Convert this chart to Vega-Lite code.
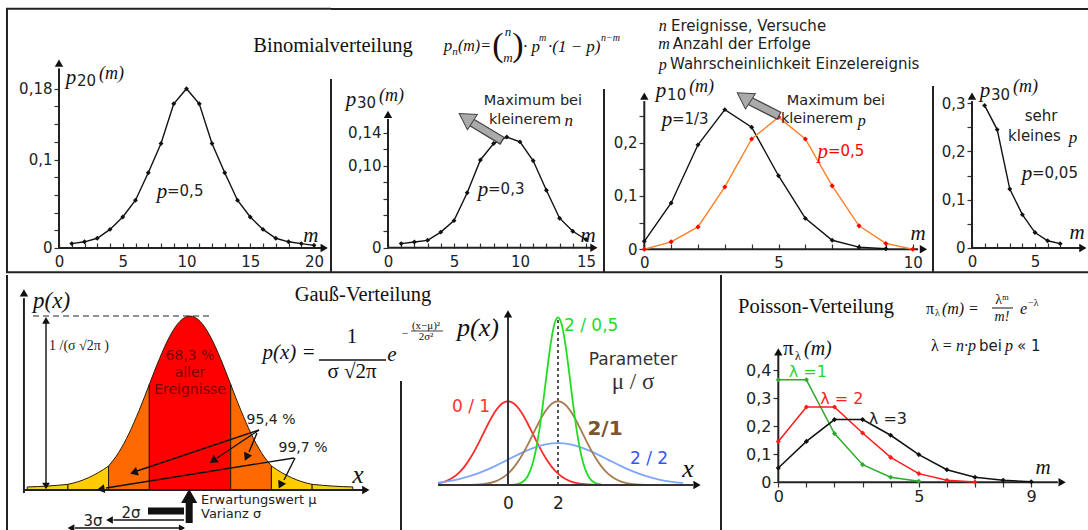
{
"$schema": "https://vega.github.io/schema/vega-lite/v6.json",
"background": "white",
"padding": {"left": 5, "top": 7, "right": 0, "bottom": 0},
"spacing": 0,
"resolve": {"scale": {"color": "independent"}},
"config": {
  "view": {"stroke": null},
  "axis": {"grid": false, "domain": false, "labelFont": "DejaVu Sans", "labelFontSize": 15, "labelColor": "#222", "tickColor": "#333", "tickWidth": 1.2, "labelFlush": false, "labelOverlap": false, "labelBound": false, "labelAngle": 0},
  "text": {"baseline": "middle"}
},
"datasets": {
  "b20": [{"x":1,"y":0.005},{"x":2,"y":0.007},{"x":3,"y":0.011},{"x":4,"y":0.021},{"x":5,"y":0.035},{"x":6,"y":0.054},{"x":7,"y":0.085},{"x":8,"y":0.118},{"x":9,"y":0.163},{"x":10,"y":0.18},{"x":11,"y":0.163},{"x":12,"y":0.118},{"x":13,"y":0.085},{"x":14,"y":0.054},{"x":15,"y":0.035},{"x":16,"y":0.021},{"x":17,"y":0.011},{"x":18,"y":0.007},{"x":19,"y":0.005},{"x":20,"y":0.003}],
  "b30": [{"x":1,"y":0.005},{"x":2,"y":0.007},{"x":3,"y":0.009},{"x":4,"y":0.019},{"x":5,"y":0.033},{"x":6,"y":0.067},{"x":7,"y":0.107},{"x":8,"y":0.127},{"x":9,"y":0.135},{"x":10,"y":0.129},{"x":11,"y":0.106},{"x":12,"y":0.07},{"x":13,"y":0.036},{"x":14,"y":0.02},{"x":15,"y":0.01}],
  "b10": [{"s":"p13","x":0,"y":0.015},{"s":"p13","x":1,"y":0.087},{"s":"p13","x":2,"y":0.196},{"s":"p13","x":3,"y":0.262},{"s":"p13","x":4,"y":0.229},{"s":"p13","x":5,"y":0.138},{"s":"p13","x":6,"y":0.058},{"s":"p13","x":7,"y":0.017},{"s":"p13","x":8,"y":0.004},{"s":"p13","x":9,"y":0.001},
          {"s":"p05","x":0,"y":0.0},{"s":"p05","x":1,"y":0.014},{"s":"p05","x":2,"y":0.042},{"s":"p05","x":3,"y":0.117},{"s":"p05","x":4,"y":0.207},{"s":"p05","x":5,"y":0.248},{"s":"p05","x":6,"y":0.207},{"s":"p05","x":7,"y":0.119},{"s":"p05","x":8,"y":0.044},{"s":"p05","x":9,"y":0.011},{"s":"p05","x":10,"y":0.0}],
  "b30s": [{"x":1,"y":0.295},{"x":2,"y":0.245},{"x":3,"y":0.122},{"x":4,"y":0.069},{"x":5,"y":0.032},{"x":6,"y":0.015},{"x":7,"y":0.009}],
  "pois": [{"s":"l1","x":0,"y":0.366},{"s":"l1","x":1,"y":0.366},{"s":"l1","x":2,"y":0.174},{"s":"l1","x":3,"y":0.063},{"s":"l1","x":4,"y":0.018},{"s":"l1","x":5,"y":0.004},
           {"s":"l2","x":0,"y":0.146},{"s":"l2","x":1,"y":0.269},{"s":"l2","x":2,"y":0.269},{"s":"l2","x":3,"y":0.176},{"s":"l2","x":4,"y":0.089},{"s":"l2","x":5,"y":0.031},{"s":"l2","x":6,"y":0.007},{"s":"l2","x":7,"y":0.001},
           {"s":"l3","x":0,"y":0.051},{"s":"l3","x":1,"y":0.146},{"s":"l3","x":2,"y":0.224},{"s":"l3","x":3,"y":0.224},{"s":"l3","x":4,"y":0.168},{"s":"l3","x":5,"y":0.099},{"s":"l3","x":6,"y":0.045},{"s":"l3","x":7,"y":0.018},{"s":"l3","x":8,"y":0.007},{"s":"l3","x":9,"y":0.002}],
  "bands": [
    {"band":"A","zone":"tail","x":-4,"y":0.007},{"band":"A","zone":"tail","x":-3.5,"y":0.009},{"band":"A","zone":"tail","x":-3,"y":0.013},
    {"band":"B","zone":"yel","x":-3,"y":0.013},{"band":"B","zone":"yel","x":-2.75,"y":0.019},{"band":"B","zone":"yel","x":-2.5,"y":0.028},{"band":"B","zone":"yel","x":-2.25,"y":0.04},{"band":"B","zone":"yel","x":-2,"y":0.055},
    {"band":"C","zone":"ora","x":-2,"y":0.055},{"band":"C","zone":"ora","x":-1.75,"y":0.0863},{"band":"C","zone":"ora","x":-1.5,"y":0.1295},{"band":"C","zone":"ora","x":-1.25,"y":0.1826},{"band":"C","zone":"ora","x":-1,"y":0.242},
    {"band":"D","zone":"red","x":-1,"y":0.242},{"band":"D","zone":"red","x":-0.75,"y":0.3011},{"band":"D","zone":"red","x":-0.5,"y":0.3521},{"band":"D","zone":"red","x":-0.25,"y":0.3867},{"band":"D","zone":"red","x":0,"y":0.3989},{"band":"D","zone":"red","x":0.25,"y":0.3867},{"band":"D","zone":"red","x":0.5,"y":0.3521},{"band":"D","zone":"red","x":0.75,"y":0.3011},{"band":"D","zone":"red","x":1,"y":0.242},
    {"band":"E","zone":"ora","x":1,"y":0.242},{"band":"E","zone":"ora","x":1.25,"y":0.1826},{"band":"E","zone":"ora","x":1.5,"y":0.1295},{"band":"E","zone":"ora","x":1.75,"y":0.0863},{"band":"E","zone":"ora","x":2,"y":0.055},
    {"band":"F","zone":"yel","x":2,"y":0.055},{"band":"F","zone":"yel","x":2.25,"y":0.04},{"band":"F","zone":"yel","x":2.5,"y":0.028},{"band":"F","zone":"yel","x":2.75,"y":0.019},{"band":"F","zone":"yel","x":3,"y":0.013},
    {"band":"G","zone":"tail","x":3,"y":0.013},{"band":"G","zone":"tail","x":3.5,"y":0.009},{"band":"G","zone":"tail","x":4,"y":0.007}],
  "curves": [
    {"s":"r","x":-2.8,"y":0.0079},{"s":"r","x":-2.5,"y":0.0175},{"s":"r","x":-2.25,"y":0.0317},{"s":"r","x":-2,"y":0.054},{"s":"r","x":-1.75,"y":0.0863},{"s":"r","x":-1.5,"y":0.1295},{"s":"r","x":-1.25,"y":0.1826},{"s":"r","x":-1,"y":0.242},{"s":"r","x":-0.75,"y":0.3011},{"s":"r","x":-0.5,"y":0.3521},{"s":"r","x":-0.25,"y":0.3867},{"s":"r","x":0,"y":0.3989},{"s":"r","x":0.25,"y":0.3867},{"s":"r","x":0.5,"y":0.3521},{"s":"r","x":0.75,"y":0.3011},{"s":"r","x":1,"y":0.242},{"s":"r","x":1.25,"y":0.1826},{"s":"r","x":1.5,"y":0.1295},{"s":"r","x":1.75,"y":0.0863},{"s":"r","x":2,"y":0.054},{"s":"r","x":2.25,"y":0.0317},{"s":"r","x":2.5,"y":0.0175},{"s":"r","x":2.8,"y":0.0079},{"s":"r","x":3.2,"y":0.0024},{"s":"r","x":3.6,"y":0.0006},
    {"s":"u","x":-2.8,"y":0.0112},{"s":"u","x":-2.5,"y":0.0159},{"s":"u","x":-2,"y":0.027},{"s":"u","x":-1.5,"y":0.0431},{"s":"u","x":-1,"y":0.0648},{"s":"u","x":-0.5,"y":0.0913},{"s":"u","x":0,"y":0.121},{"s":"u","x":0.5,"y":0.1506},{"s":"u","x":1,"y":0.176},{"s":"u","x":1.5,"y":0.1933},{"s":"u","x":2,"y":0.1995},{"s":"u","x":2.5,"y":0.1933},{"s":"u","x":3,"y":0.176},{"s":"u","x":3.5,"y":0.1506},{"s":"u","x":4,"y":0.121},{"s":"u","x":4.5,"y":0.0913},{"s":"u","x":5,"y":0.0648},{"s":"u","x":5.5,"y":0.0431},{"s":"u","x":6,"y":0.027},{"s":"u","x":6.5,"y":0.0159},{"s":"u","x":7,"y":0.0088},
    {"s":"b","x":-2.8,"y":0.0001},{"s":"b","x":-1.5,"y":0.0009},{"s":"b","x":-1,"y":0.0044},{"s":"b","x":-0.5,"y":0.0175},{"s":"b","x":-0.25,"y":0.0317},{"s":"b","x":0,"y":0.054},{"s":"b","x":0.25,"y":0.0863},{"s":"b","x":0.5,"y":0.1295},{"s":"b","x":0.75,"y":0.1826},{"s":"b","x":1,"y":0.242},{"s":"b","x":1.25,"y":0.3011},{"s":"b","x":1.5,"y":0.3521},{"s":"b","x":1.75,"y":0.3867},{"s":"b","x":2,"y":0.3989},{"s":"b","x":2.25,"y":0.3867},{"s":"b","x":2.5,"y":0.3521},{"s":"b","x":2.75,"y":0.3011},{"s":"b","x":3,"y":0.242},{"s":"b","x":3.25,"y":0.1826},{"s":"b","x":3.5,"y":0.1295},{"s":"b","x":3.75,"y":0.0863},{"s":"b","x":4,"y":0.054},{"s":"b","x":4.25,"y":0.0317},{"s":"b","x":4.5,"y":0.0175},{"s":"b","x":5,"y":0.0044},{"s":"b","x":5.7,"y":0.0004},
    {"s":"g","x":0.25,"y":0.0018},{"s":"g","x":0.5,"y":0.0089},{"s":"g","x":0.75,"y":0.035},{"s":"g","x":0.875,"y":0.0635},{"s":"g","x":1,"y":0.108},{"s":"g","x":1.125,"y":0.1726},{"s":"g","x":1.25,"y":0.259},{"s":"g","x":1.375,"y":0.3653},{"s":"g","x":1.5,"y":0.4839},{"s":"g","x":1.625,"y":0.6023},{"s":"g","x":1.75,"y":0.7041},{"s":"g","x":1.875,"y":0.7734},{"s":"g","x":2,"y":0.7979},{"s":"g","x":2.125,"y":0.7734},{"s":"g","x":2.25,"y":0.7041},{"s":"g","x":2.375,"y":0.6023},{"s":"g","x":2.5,"y":0.4839},{"s":"g","x":2.625,"y":0.3653},{"s":"g","x":2.75,"y":0.259},{"s":"g","x":2.875,"y":0.1726},{"s":"g","x":3,"y":0.108},{"s":"g","x":3.125,"y":0.0635},{"s":"g","x":3.25,"y":0.035},{"s":"g","x":3.5,"y":0.0089},{"s":"g","x":3.75,"y":0.0018}]
},
"vconcat": [
{"hconcat": [
 {"width": 325, "height": 265,
  "encoding": {
   "x": {"field": "x", "type": "quantitative", "title": null, "scale": {"domain": [-4.157, 21.333], "nice": false, "zero": false},
     "axis": {"values": [0,1,2,3,4,5,6,7,8,9,10,11,12,13,14,15,16,17,18,19,20], "labelExpr": "datum.value % 5 === 0 ? datum.label : ''", "offset": -25, "tickSize": -5, "labelPadding": 11}},
   "y": {"field": "y", "type": "quantitative", "title": null, "scale": {"domain": [-0.02825, 0.27119], "nice": false, "zero": false},
     "axis": {"values": [0,0.02,0.04,0.06,0.08,0.1,0.12,0.14,0.16,0.18], "format": "~g", "labelExpr": "indexof([0, 0.1, 0.18], datum.value) >= 0 ? replace(datum.label, '.', ',') : ''", "offset": -53, "tickSize": 5, "labelPadding": 2}}
  },
  "layer": [
   {"data": {"values": [{"x":-4.08,"y":-0.02825,"x2":-4.08,"y2":0.27119},{"x":-4.157,"y":0.2703,"x2":21.333,"y2":0.2703},{"x":-4.157,"y":-0.0274,"x2":21.333,"y2":-0.0274}]},
    "mark": {"type": "rule", "color": "#222", "strokeWidth": 2}, "encoding": {"x2": {"field": "x2"}, "y2": {"field": "y2"}}},
   {"data": {"values": [{"x":0,"y":0,"x2":0,"y2":0.203},{"x":0,"y":0,"x2":20.6,"y2":0}]},
    "mark": {"type": "rule", "color": "#222", "strokeWidth": 2}, "encoding": {"x2": {"field": "x2"}, "y2": {"field": "y2"}}},
   {"data": {"values": [{"x":0,"y":0.209}]}, "mark": {"type": "point", "shape": "triangle-up", "filled": true, "color": "#111", "size": 70, "opacity": 1}},
   {"data": {"values": [{"x":20.8,"y":0}]}, "mark": {"type": "point", "shape": "triangle-right", "filled": true, "color": "#111", "size": 70, "opacity": 1}},
   {"data": {"name": "b20"}, "mark": {"type": "line", "color": "#111", "strokeWidth": 1.4}},
   {"data": {"name": "b20"}, "mark": {"type": "point", "shape": "diamond", "filled": true, "color": "#111", "size": 24, "opacity": 1}},
   {"data": {"values": [{"x":0.94,"y":0.1921,"t":"p"},{"x":8.08,"y":0.0633,"t":"p"},{"x":19.76,"y":0.0136,"t":"m"}]},
    "mark": {"type": "text", "font": "Liberation Serif", "fontStyle": "italic", "fontSize": 21, "color": "#111", "align": "center"}, "encoding": {"text": {"field": "t"}}},
   {"data": {"values": [{"x":3.14,"y":0.1966,"t":"(m)"}]},
    "mark": {"type": "text", "font": "Liberation Serif", "fontStyle": "italic", "fontSize": 18, "color": "#111", "align": "left"}, "encoding": {"text": {"field": "t"}}},
   {"data": {"values": [{"x":1.41,"y":0.1887,"t":"20"},{"x":8.47,"y":0.0644,"t":"=0,5"}]},
    "mark": {"type": "text", "font": "DejaVu Sans", "fontSize": 15, "color": "#222", "align": "left"}, "encoding": {"text": {"field": "t"}}}
  ]},
 {"width": 273, "height": 265,
  "encoding": {
   "x": {"field": "x", "type": "quantitative", "title": null, "scale": {"domain": [-4.318, 16.364], "nice": false, "zero": false},
     "axis": {"values": [0,1,2,3,4,5,6,7,8,9,10,11,12,13,14,15], "labelExpr": "datum.value % 5 === 0 ? datum.label : ''", "offset": -25, "tickSize": -5, "labelPadding": 11}},
   "y": {"field": "y", "type": "quantitative", "title": null, "scale": {"domain": [-0.03085, 0.29232], "nice": false, "zero": false},
     "axis": {"values": [0,0.02,0.04,0.06,0.08,0.1,0.12,0.14], "labelExpr": "datum.value === 0 ? '0' : (datum.value === 0.1 || datum.value === 0.14) ? replace(format(datum.value, '.2f'), '.', ',') : ''", "offset": -57, "tickSize": 5, "labelPadding": 2}}
  },
  "layer": [
   {"data": {"values": [{"x":-4.318,"y":-0.03085,"x2":-4.318,"y2":0.2057},{"x":-4.318,"y":0.2911,"x2":16.364,"y2":0.2911},{"x":-4.318,"y":-0.0299,"x2":16.364,"y2":-0.0299}]},
    "mark": {"type": "rule", "color": "#222", "strokeWidth": 2}, "encoding": {"x2": {"field": "x2"}, "y2": {"field": "y2"}}},
   {"data": {"values": [{"x":0,"y":0,"x2":0,"y2":0.157},{"x":0,"y":0,"x2":15.4,"y2":0}]},
    "mark": {"type": "rule", "color": "#222", "strokeWidth": 2}, "encoding": {"x2": {"field": "x2"}, "y2": {"field": "y2"}}},
   {"data": {"values": [{"x":0,"y":0.1626}]}, "mark": {"type": "point", "shape": "triangle-up", "filled": true, "color": "#111", "size": 70, "opacity": 1}},
   {"data": {"values": [{"x":15.6,"y":0}]}, "mark": {"type": "point", "shape": "triangle-right", "filled": true, "color": "#111", "size": 70, "opacity": 1}},
   {"data": {"name": "b30"}, "mark": {"type": "line", "color": "#111", "strokeWidth": 1.4}},
   {"data": {"name": "b30"}, "mark": {"type": "point", "shape": "diamond", "filled": true, "color": "#111", "size": 24, "opacity": 1}},
   {"data": {"values": [{"x":8.69,"y":0.1301,"x2":6.29,"y2":0.1533}]},
    "mark": {"type": "rule", "color": "#444", "strokeWidth": 9}, "encoding": {"x2": {"field": "x2"}, "y2": {"field": "y2"}}},
   {"data": {"values": [{"x":8.6,"y":0.131,"x2":6.29,"y2":0.1533}]},
    "mark": {"type": "rule", "color": "#aaa", "strokeWidth": 6.5}, "encoding": {"x2": {"field": "x2"}, "y2": {"field": "y2"}}},
   {"data": {"values": [{"x":6.06,"y":0.1566}]}, "mark": {"type": "point", "shape": "triangle", "filled": true, "fill": "#aaa", "stroke": "#444", "strokeWidth": 1, "size": 330, "angle": 303, "opacity": 1}},
   {"data": {"values": [{"x":-4.167,"y":0.246,"t":"Binomialverteilung"}]},
    "mark": {"type": "text", "font": "Liberation Serif", "fontSize": 20.5, "color": "#111", "align": "center"}, "encoding": {"text": {"field": "t"}}},
   {"data": {"values": [{"x":-2.8,"y":0.18,"t":"p"},{"x":7.2,"y":0.0704,"t":"p"},{"x":15.15,"y":0.0143,"t":"m"}]},
    "mark": {"type": "text", "font": "Liberation Serif", "fontStyle": "italic", "fontSize": 21, "color": "#111", "align": "center"}, "encoding": {"text": {"field": "t"}}},
   {"data": {"values": [{"x":13.7,"y":0.1545,"t":"n"},{"x":4.545,"y":0.246,"t":"p"}]},
    "mark": {"type": "text", "font": "Liberation Serif", "fontStyle": "italic", "fontSize": 17, "color": "#111", "align": "center"}, "encoding": {"text": {"field": "t"}}},
   {"data": {"values": [{"x":-0.68,"y":0.185,"t":"(m)"}]},
    "mark": {"type": "text", "font": "Liberation Serif", "fontStyle": "italic", "fontSize": 18, "color": "#111", "align": "left"}, "encoding": {"text": {"field": "t"}}},
   {"data": {"values": [{"x":-2.35,"y":0.1765,"t":"30"},{"x":7.58,"y":0.0716,"t":"=0,3"}]},
    "mark": {"type": "text", "font": "DejaVu Sans", "fontSize": 15, "color": "#222", "align": "left"}, "encoding": {"text": {"field": "t"}}},
   {"data": {"values": [{"x":10.98,"y":0.1789,"t":"Maximum bei"}]},
    "mark": {"type": "text", "font": "DejaVu Sans", "fontSize": 14.5, "color": "#222", "align": "center"}, "encoding": {"text": {"field": "t"}}},
   {"data": {"values": [{"x":7.65,"y":0.1557,"t":"kleinerem"}]},
    "mark": {"type": "text", "font": "DejaVu Sans", "fontSize": 14.5, "color": "#222", "align": "left"}, "encoding": {"text": {"field": "t"}}},
   {"data": {"values": [{"x":5.076,"y":0.2387,"t":"n"}]},
    "mark": {"type": "text", "font": "Liberation Serif", "fontStyle": "italic", "fontSize": 11, "color": "#111", "align": "center"}, "encoding": {"text": {"field": "t"}}},
   {"data": {"values": [{"x":5.3,"y":0.246,"t":"(m)="}]},
    "mark": {"type": "text", "font": "Liberation Serif", "fontStyle": "italic", "fontSize": 16, "color": "#111", "align": "left"}, "encoding": {"text": {"field": "t"}}},
   {"data": {"values": [{"x":10.23,"y":0.2448,"t":"· p"},{"x":12.12,"y":0.2448,"t":"·(1 − p)"}]},
    "mark": {"type": "text", "font": "Liberation Serif", "fontStyle": "italic", "fontSize": 17, "color": "#111", "align": "left"}, "encoding": {"text": {"field": "t"}}},
   {"data": {"values": [{"x":11.44,"y":0.2557,"t":"m"},{"x":16.14,"y":0.2557,"t":"n−m"}]},
    "mark": {"type": "text", "font": "Liberation Serif", "fontStyle": "italic", "fontSize": 10, "color": "#111", "align": "left"}, "encoding": {"text": {"field": "t"}}},
   {"data": {"values": [{"x":8.33,"y":0.246,"t":"("},{"x":9.85,"y":0.246,"t":")"}]},
    "mark": {"type": "text", "font": "Liberation Serif", "fontSize": 34, "color": "#111", "align": "center"}, "encoding": {"text": {"field": "t"}}},
   {"data": {"values": [{"x":9.09,"y":0.2625,"t":"n"},{"x":9.09,"y":0.2316,"t":"m"}]},
    "mark": {"type": "text", "font": "Liberation Serif", "fontStyle": "italic", "fontSize": 13, "color": "#111", "align": "center"}, "encoding": {"text": {"field": "t"}}}
  ]},
 {"width": 329, "height": 265,
  "encoding": {
   "x": {"field": "x", "type": "quantitative", "title": null, "scale": {"domain": [-1.5015, 10.756], "nice": false, "zero": false},
     "axis": {"values": [0,1,2,3,4,5,6,7,8,9,10], "labelExpr": "datum.value % 5 === 0 ? datum.label : ''", "offset": -24, "tickSize": -5, "labelPadding": 11}},
   "y": {"field": "y", "type": "quantitative", "title": null, "scale": {"domain": [-0.04447, 0.45272], "nice": false, "zero": false},
     "axis": {"values": [0,0.05,0.1,0.15,0.2,0.25], "format": "~g", "labelExpr": "indexof([0, 0.1, 0.2], datum.value) >= 0 ? replace(datum.label, '.', ',') : ''", "offset": -40, "tickSize": 5, "labelPadding": 2}}
  },
  "layer": [
   {"data": {"values": [{"x":-1.5015,"y":-0.04447,"x2":-1.5015,"y2":0.3008},{"x":-1.5015,"y":0.45084,"x2":10.756,"y2":0.45084},{"x":-1.5015,"y":-0.04306,"x2":10.756,"y2":-0.04306}]},
    "mark": {"type": "rule", "color": "#222", "strokeWidth": 2}, "encoding": {"x2": {"field": "x2"}, "y2": {"field": "y2"}}},
   {"data": {"values": [{"x":0,"y":0,"x2":0,"y2":0.278},{"x":0,"y":0,"x2":10.2,"y2":0}]},
    "mark": {"type": "rule", "color": "#222", "strokeWidth": 2}, "encoding": {"x2": {"field": "x2"}, "y2": {"field": "y2"}}},
   {"data": {"values": [{"x":0,"y":0.2876}]}, "mark": {"type": "point", "shape": "triangle-up", "filled": true, "color": "#111", "size": 70, "opacity": 1}},
   {"data": {"values": [{"x":10.4,"y":0}]}, "mark": {"type": "point", "shape": "triangle-right", "filled": true, "color": "#111", "size": 70, "opacity": 1}},
   {"data": {"name": "b10"}, "mark": {"type": "line", "strokeWidth": 1.4},
    "encoding": {"color": {"field": "s", "type": "nominal", "scale": {"domain": ["p13","p05"], "range": ["#111","#FF7F27"]}, "legend": null}}},
   {"data": {"name": "b10"}, "transform": [{"filter": "datum.s === 'p13'"}], "mark": {"type": "point", "shape": "diamond", "filled": true, "color": "#111", "size": 24, "opacity": 1}},
   {"data": {"name": "b10"}, "transform": [{"filter": "datum.s === 'p05'"}], "mark": {"type": "point", "shape": "diamond", "filled": true, "color": "#FF0000", "size": 26, "opacity": 1}},
   {"data": {"values": [{"x":5.04,"y":0.2501,"x2":3.9,"y2":0.2792}]},
    "mark": {"type": "rule", "color": "#444", "strokeWidth": 9}, "encoding": {"x2": {"field": "x2"}, "y2": {"field": "y2"}}},
   {"data": {"values": [{"x":5.0,"y":0.2511,"x2":3.9,"y2":0.2792}]},
    "mark": {"type": "rule", "color": "#aaa", "strokeWidth": 6.5}, "encoding": {"x2": {"field": "x2"}, "y2": {"field": "y2"}}},
   {"data": {"values": [{"x":3.79,"y":0.2829}]}, "mark": {"type": "point", "shape": "triangle", "filled": true, "fill": "#aaa", "stroke": "#444", "strokeWidth": 1, "size": 330, "angle": 303, "opacity": 1}},
   {"data": {"values": [{"x":0.62,"y":0.2968,"t":"p"},{"x":0.85,"y":0.2426,"t":"p"},{"x":10.2,"y":0.0287,"t":"m"}]},
    "mark": {"type": "text", "font": "Liberation Serif", "fontStyle": "italic", "fontSize": 21, "color": "#111", "align": "center"}, "encoding": {"text": {"field": "t"}}},
   {"data": {"values": [{"x":6.65,"y":0.1826,"t":"p"}]},
    "mark": {"type": "text", "font": "Liberation Serif", "fontStyle": "italic", "fontSize": 21, "color": "#FF0000", "align": "center"}, "encoding": {"text": {"field": "t"}}},
   {"data": {"values": [{"x":8.1,"y":0.2408,"t":"p"},{"x":0.686,"y":0.419,"t":"n"},{"x":0.734,"y":0.3846,"t":"m"},{"x":0.686,"y":0.3458,"t":"p"}]},
    "mark": {"type": "text", "font": "Liberation Serif", "fontStyle": "italic", "fontSize": 16, "color": "#111", "align": "center"}, "encoding": {"text": {"field": "t"}}},
   {"data": {"values": [{"x":1.67,"y":0.3043,"t":"(m)"}]},
    "mark": {"type": "text", "font": "Liberation Serif", "fontStyle": "italic", "fontSize": 18, "color": "#111", "align": "left"}, "encoding": {"text": {"field": "t"}}},
   {"data": {"values": [{"x":0.85,"y":0.2895,"t":"10"},{"x":1.03,"y":0.2445,"t":"=1/3"},{"x":0.995,"y":0.419,"t":"Ereignisse, Versuche"},{"x":1.058,"y":0.3846,"t":"Anzahl der Erfolge"},{"x":0.958,"y":0.3471,"t":"Wahrscheinlichkeit Einzelereignis"}]},
    "mark": {"type": "text", "font": "DejaVu Sans", "fontSize": 15, "color": "#222", "align": "left"}, "encoding": {"text": {"field": "t"}}},
   {"data": {"values": [{"x":6.84,"y":0.1844,"t":"=0,5"}]},
    "mark": {"type": "text", "font": "DejaVu Sans", "fontSize": 15, "color": "#FF0000", "align": "left"}, "encoding": {"text": {"field": "t"}}},
   {"data": {"values": [{"x":7.14,"y":0.2782,"t":"Maximum bei"}]},
    "mark": {"type": "text", "font": "DejaVu Sans", "fontSize": 14.5, "color": "#222", "align": "center"}, "encoding": {"text": {"field": "t"}}},
   {"data": {"values": [{"x":5.09,"y":0.2445,"t":"kleinerem"}]},
    "mark": {"type": "text", "font": "DejaVu Sans", "fontSize": 14.5, "color": "#222", "align": "left"}, "encoding": {"text": {"field": "t"}}}
  ]},
 {"width": 156, "height": 265,
  "encoding": {
   "x": {"field": "x", "type": "quantitative", "title": null, "scale": {"domain": [-3.095, 9.286], "nice": false, "zero": false},
     "axis": {"values": [0,1,2,3,4,5,6,7], "labelExpr": "datum.value % 5 === 0 ? datum.label : ''", "offset": -25, "tickSize": -5, "labelPadding": 11}},
   "y": {"field": "y", "type": "quantitative", "title": null, "scale": {"domain": [-0.05173, 0.49659], "nice": false, "zero": false},
     "axis": {"values": [0,0.05,0.1,0.15,0.2,0.25,0.3], "format": "~g", "labelExpr": "indexof([0, 0.1, 0.2, 0.3], datum.value) >= 0 ? replace(datum.label, '.', ',') : ''", "offset": -39, "tickSize": 5, "labelPadding": 2}}
  },
  "layer": [
   {"data": {"values": [{"x":-3.095,"y":-0.05173,"x2":-3.095,"y2":0.335},{"x":-3.095,"y":0.49452,"x2":9.286,"y2":0.49452},{"x":-3.095,"y":-0.05018,"x2":9.286,"y2":-0.05018}]},
    "mark": {"type": "rule", "color": "#222", "strokeWidth": 2}, "encoding": {"x2": {"field": "x2"}, "y2": {"field": "y2"}}},
   {"data": {"values": [{"x":0,"y":0,"x2":0,"y2":0.304},{"x":0,"y":0,"x2":8.6,"y2":0}]},
    "mark": {"type": "rule", "color": "#222", "strokeWidth": 2}, "encoding": {"x2": {"field": "x2"}, "y2": {"field": "y2"}}},
   {"data": {"values": [{"x":0,"y":0.3145}]}, "mark": {"type": "point", "shape": "triangle-up", "filled": true, "color": "#111", "size": 70, "opacity": 1}},
   {"data": {"values": [{"x":8.8,"y":0}]}, "mark": {"type": "point", "shape": "triangle-right", "filled": true, "color": "#111", "size": 70, "opacity": 1}},
   {"data": {"name": "b30s"}, "mark": {"type": "line", "color": "#111", "strokeWidth": 1.4}},
   {"data": {"name": "b30s"}, "mark": {"type": "point", "shape": "diamond", "filled": true, "color": "#111", "size": 24, "opacity": 1}},
   {"data": {"values": [{"x":1.03,"y":0.3249,"t":"p"},{"x":4.37,"y":0.1531,"t":"p"},{"x":8.33,"y":0.031,"t":"m"}]},
    "mark": {"type": "text", "font": "Liberation Serif", "fontStyle": "italic", "fontSize": 21, "color": "#111", "align": "center"}, "encoding": {"text": {"field": "t"}}},
   {"data": {"values": [{"x":8.02,"y":0.2276,"t":"p"}]},
    "mark": {"type": "text", "font": "Liberation Serif", "fontStyle": "italic", "fontSize": 17, "color": "#111", "align": "center"}, "encoding": {"text": {"field": "t"}}},
   {"data": {"values": [{"x":3.25,"y":0.3331,"t":"(m)"}]},
    "mark": {"type": "text", "font": "Liberation Serif", "fontStyle": "italic", "fontSize": 18, "color": "#111", "align": "left"}, "encoding": {"text": {"field": "t"}}},
   {"data": {"values": [{"x":1.51,"y":0.3166,"t":"30"},{"x":4.76,"y":0.1552,"t":"=0,05"},{"x":2.86,"y":0.2317,"t":"kleines"}]},
    "mark": {"type": "text", "font": "DejaVu Sans", "fontSize": 15, "color": "#222", "align": "left"}, "encoding": {"text": {"field": "t"}}},
   {"data": {"values": [{"x":5.48,"y":0.2731,"t":"sehr"}]},
    "mark": {"type": "text", "font": "DejaVu Sans", "fontSize": 15, "color": "#222", "align": "center"}, "encoding": {"text": {"field": "t"}}}
  ]}
], "spacing": 0, "bounds": "flush", "resolve": {"scale": {"color": "independent"}}},
{"hconcat": [
 {"width": 395, "height": 258,
  "encoding": {
   "x": {"field": "x", "type": "quantitative", "title": null, "scale": {"domain": [-4.521, 5.184], "nice": false, "zero": false}, "axis": null},
   "y": {"field": "y", "type": "quantitative", "title": null, "scale": {"domain": [-0.09862, 0.49312], "nice": false, "zero": false}, "axis": null}
  },
  "layer": [
   {"data": {"name": "bands"}, "mark": {"type": "area", "interpolate": "monotone", "stroke": "#2a1a00", "strokeWidth": 1, "opacity": 1},
    "encoding": {
     "y": {"field": "y", "type": "quantitative", "stack": null, "title": null, "scale": {"domain": [-0.09862, 0.49312], "nice": false, "zero": false}, "axis": null},
     "y2": {"datum": 0},
     "detail": {"field": "band"},
     "color": {"field": "zone", "type": "nominal", "scale": {"domain": ["tail","yel","ora","red"], "range": ["#F0D41A","#FFCC00","#FF6A00","#FF0000"]}, "legend": null}}},
   {"data": {"values": [{"x":-4.4964,"y":-0.09862,"x2":-4.4964,"y2":0.49312}]},
    "mark": {"type": "rule", "color": "#222", "strokeWidth": 2}, "encoding": {"x2": {"field": "x2"}, "y2": {"field": "y2"}}},
   {"data": {"values": [{"x":-4.08,"y":-0.007,"x2":-4.08,"y2":0.44},{"x":-4.08,"y":0,"x2":4.25,"y2":0}]},
    "mark": {"type": "rule", "color": "#222", "strokeWidth": 2}, "encoding": {"x2": {"field": "x2"}, "y2": {"field": "y2"}}},
   {"data": {"values": [{"x":-4.08,"y":0.452}]}, "mark": {"type": "point", "shape": "triangle-up", "filled": true, "color": "#111", "size": 70, "opacity": 1}},
   {"data": {"values": [{"x":4.32,"y":0}]}, "mark": {"type": "point", "shape": "triangle-right", "filled": true, "color": "#111", "size": 70, "opacity": 1}},
   {"data": {"values": [{"x":-3.857,"y":0.3991,"x2":0.467,"y2":0.3991}]},
    "mark": {"type": "rule", "color": "#222", "strokeWidth": 1.2, "strokeDash": [6,4]}, "encoding": {"x2": {"field": "x2"}, "y2": {"field": "y2"}}},
   {"data": {"values": [{"x":-3.538,"y":0.012,"x2":-3.538,"y2":0.383},{"x":1.695,"y":0.1376,"x2":-1.302,"y2":0.0436},{"x":1.695,"y":0.1376,"x2":0.663,"y2":0.0734},{"x":1.646,"y":0.1307,"x2":1.45,"y2":0.0872},{"x":2.555,"y":0.0734,"x2":-2.064,"y2":0.0046},{"x":2.58,"y":0.0734,"x2":2.31,"y2":0.0229},{"x":-0.147,"y":-0.0688,"x2":-1.88,"y2":-0.0688},{"x":-0.147,"y":-0.0872,"x2":-2.83,"y2":-0.0872},{"x":3.17,"y":0.2982,"x2":4.816,"y2":0.2982}]},
    "mark": {"type": "rule", "color": "#111", "strokeWidth": 1.4}, "encoding": {"x2": {"field": "x2"}, "y2": {"field": "y2"}}},
   {"data": {"values": [{"x":5.43,"y":0.3647,"x2":6.216,"y2":0.3647}]},
    "mark": {"type": "rule", "color": "#111", "strokeWidth": 0.8}, "encoding": {"x2": {"field": "x2"}, "y2": {"field": "y2"}}},
   {"data": {"values": [{"x":-1.032,"y":-0.0482,"x2":-0.147,"y2":-0.0482},{"x":-0.02,"y":-0.0757,"x2":-0.02,"y2":-0.02}]},
    "mark": {"type": "rule", "color": "#111", "strokeWidth": 7}, "encoding": {"x2": {"field": "x2"}, "y2": {"field": "y2"}}},
   {"data": {"values": [{"x":-0.02,"y":-0.0138}]}, "mark": {"type": "point", "shape": "triangle-up", "filled": true, "color": "#111", "size": 260, "opacity": 1}},
   {"data": {"values": [{"x":-3.538,"y":0.389}]}, "mark": {"type": "point", "shape": "triangle-up", "filled": true, "color": "#111", "size": 60, "opacity": 1}},
   {"data": {"values": [{"x":-3.538,"y":0.0092}]}, "mark": {"type": "point", "shape": "triangle-down", "filled": true, "color": "#111", "size": 60, "opacity": 1}},
   {"data": {"values": [{"x":-1.978,"y":-0.0688},{"x":-2.924,"y":-0.0872}]}, "mark": {"type": "point", "shape": "triangle-left", "filled": true, "color": "#111", "size": 60, "opacity": 1}},
   {"data": {"values": [{"x":-0.197,"y":-0.0872}]}, "mark": {"type": "point", "shape": "triangle-right", "filled": true, "color": "#111", "size": 50, "opacity": 1}},
   {"data": {"values": [{"x":-1.351,"y":0.0413}]}, "mark": {"type": "point", "shape": "triangle", "filled": true, "color": "#111", "size": 80, "angle": 251, "opacity": 1}},
   {"data": {"values": [{"x":0.59,"y":0.0688}]}, "mark": {"type": "point", "shape": "triangle", "filled": true, "color": "#111", "size": 80, "angle": 236, "opacity": 1}},
   {"data": {"values": [{"x":1.4,"y":0.078}]}, "mark": {"type": "point", "shape": "triangle", "filled": true, "color": "#111", "size": 80, "angle": 205, "opacity": 1}},
   {"data": {"values": [{"x":-2.162,"y":0.0023}]}, "mark": {"type": "point", "shape": "triangle", "filled": true, "color": "#111", "size": 80, "angle": 261, "opacity": 1}},
   {"data": {"values": [{"x":2.236,"y":0.0138}]}, "mark": {"type": "point", "shape": "triangle", "filled": true, "color": "#111", "size": 80, "angle": 207, "opacity": 1}},
   {"data": {"values": [{"x":-3.857,"y":0.4335,"t":"p(x)"}]},
    "mark": {"type": "text", "font": "Liberation Serif", "fontStyle": "italic", "fontSize": 23, "color": "#111", "align": "left"}, "encoding": {"text": {"field": "t"}}},
   {"data": {"values": [{"x":4.128,"y":0.0344,"t":"x"}]},
    "mark": {"type": "text", "font": "Liberation Serif", "fontStyle": "italic", "fontSize": 25, "color": "#111", "align": "center"}, "encoding": {"text": {"field": "t"}}},
   {"data": {"values": [{"x":-3.464,"y":0.3303,"t":"1 /(σ  √2π )"}]},
    "mark": {"type": "text", "font": "Liberation Serif", "fontSize": 14, "color": "#222", "align": "left"}, "encoding": {"text": {"field": "t"}}},
   {"data": {"values": [{"x":0,"y":0.3073,"t":"68,3 %"},{"x":0,"y":0.2683,"t":"aller"},{"x":0,"y":0.2294,"t":"Ereignisse"}]},
    "mark": {"type": "text", "font": "DejaVu Sans", "fontSize": 14, "color": "#7A0000", "align": "center"}, "encoding": {"text": {"field": "t"}}},
   {"data": {"values": [{"x":1.99,"y":0.1606,"t":"95,4 %"},{"x":2.776,"y":0.0963,"t":"99,7 %"}]},
    "mark": {"type": "text", "font": "DejaVu Sans", "fontSize": 14, "color": "#222", "align": "center"}, "encoding": {"text": {"field": "t"}}},
   {"data": {"values": [{"x":0.27,"y":-0.0229,"t":"Erwartungswert μ"},{"x":0.27,"y":-0.055,"t":"Varianz σ"}]},
    "mark": {"type": "text", "font": "DejaVu Sans", "fontSize": 13, "color": "#222", "align": "left"}, "encoding": {"text": {"field": "t"}}},
   {"data": {"values": [{"x":-1.45,"y":-0.0528,"t":"2σ"},{"x":-2.383,"y":-0.0711,"t":"3σ"}]},
    "mark": {"type": "text", "font": "DejaVu Sans", "fontSize": 15, "color": "#222", "align": "center"}, "encoding": {"text": {"field": "t"}}},
   {"data": {"values": [{"x":4.25,"y":0.4472,"t":"Gauß-Verteilung"}]},
    "mark": {"type": "text", "font": "Liberation Serif", "fontSize": 20.5, "color": "#111", "align": "center"}, "encoding": {"text": {"field": "t"}}},
   {"data": {"values": [{"x":2.432,"y":0.3142,"t":"p(x) ="},{"x":4.963,"y":0.3096,"t":"e"}]},
    "mark": {"type": "text", "font": "Liberation Serif", "fontStyle": "italic", "fontSize": 21, "color": "#111", "align": "center"}, "encoding": {"text": {"field": "t"}}},
   {"data": {"values": [{"x":3.98,"y":0.3509,"t":"1"},{"x":3.98,"y":0.2706,"t":"σ √2π"}]},
    "mark": {"type": "text", "font": "Liberation Serif", "fontSize": 21, "color": "#111", "align": "center"}, "encoding": {"text": {"field": "t"}}},
   {"data": {"values": [{"x":5.283,"y":0.3601,"t":"−"}]},
    "mark": {"type": "text", "font": "Liberation Serif", "fontSize": 12, "color": "#111", "align": "center"}, "encoding": {"text": {"field": "t"}}},
   {"data": {"values": [{"x":5.799,"y":0.3761,"t":"(x−μ)²"},{"x":5.799,"y":0.3509,"t":"2σ²"}]},
    "mark": {"type": "text", "font": "Liberation Serif", "fontSize": 11, "color": "#111", "align": "center"}, "encoding": {"text": {"field": "t"}}}
  ]},
 {"width": 320, "height": 258,
  "encoding": {
   "x": {"field": "x", "type": "quantitative", "title": null, "scale": {"domain": [-4.28, 8.52], "nice": false, "zero": false},
     "axis": {"values": [0,2], "ticks": false, "offset": -48, "labelPadding": 10, "labelFontSize": 17}},
   "y": {"field": "y", "type": "quantitative", "title": null, "scale": {"domain": [-0.22857, 1.0], "nice": false, "zero": false}, "axis": null}
  },
  "layer": [
   {"data": {"values": [{"x":-4.28,"y":-0.22857,"x2":-4.28,"y2":0.495}]},
    "mark": {"type": "rule", "color": "#222", "strokeWidth": 2}, "encoding": {"x2": {"field": "x2"}, "y2": {"field": "y2"}}},
   {"data": {"values": [{"x":2,"y":0,"x2":2,"y2":0.79}]},
    "mark": {"type": "rule", "color": "#555", "strokeWidth": 2, "strokeDash": [3,3]}, "encoding": {"x2": {"field": "x2"}, "y2": {"field": "y2"}}},
   {"data": {"name": "curves"}, "mark": {"type": "line", "interpolate": "monotone", "strokeWidth": 1.8},
    "encoding": {"color": {"field": "s", "type": "nominal", "scale": {"domain": ["r","u","b","g"], "range": ["#FF2A2A","#7FA6FF","#A57C50","#22DD22"]}, "legend": null}}},
   {"data": {"values": [{"x":0,"y":-0.005,"x2":0,"y2":0.8},{"x":-2.8,"y":0,"x2":7.4,"y2":0}]},
    "mark": {"type": "rule", "color": "#333", "strokeWidth": 2}, "encoding": {"x2": {"field": "x2"}, "y2": {"field": "y2"}}},
   {"data": {"values": [{"x":0,"y":0.8143}]}, "mark": {"type": "point", "shape": "triangle-up", "filled": true, "color": "#111", "size": 70, "opacity": 1}},
   {"data": {"values": [{"x":7.56,"y":0}]}, "mark": {"type": "point", "shape": "triangle-right", "filled": true, "color": "#111", "size": 70, "opacity": 1}},
   {"data": {"values": [{"x":-1.2,"y":0.7476,"t":"p(x)"},{"x":7.2,"y":0.0762,"t":"x"}]},
    "mark": {"type": "text", "font": "Liberation Serif", "fontStyle": "italic", "fontSize": 26, "color": "#111", "align": "center"}, "encoding": {"text": {"field": "t"}}},
   {"data": {"values": [{"x":-1.48,"y":0.3714,"t":"0 / 1"}]},
    "mark": {"type": "text", "font": "DejaVu Sans", "fontSize": 17, "color": "#FF3030", "align": "center"}, "encoding": {"text": {"field": "t"}}},
   {"data": {"values": [{"x":2.24,"y":0.757,"t":"2 / 0,5"}]},
    "mark": {"type": "text", "font": "DejaVu Sans", "fontSize": 17, "color": "#22DD22", "align": "left"}, "encoding": {"text": {"field": "t"}}},
   {"data": {"values": [{"x":5.0,"y":0.5952,"t":"Parameter"}]},
    "mark": {"type": "text", "font": "DejaVu Sans", "fontSize": 17, "color": "#333", "align": "center"}, "encoding": {"text": {"field": "t"}}},
   {"data": {"values": [{"x":5.0,"y":0.4905,"t":"μ / σ"}]},
    "mark": {"type": "text", "font": "Liberation Serif", "fontSize": 23, "color": "#333", "align": "center"}, "encoding": {"text": {"field": "t"}}},
   {"data": {"values": [{"x":3.88,"y":0.2667,"t":"2/1"}]},
    "mark": {"type": "text", "font": "DejaVu Sans", "fontSize": 20, "fontWeight": "bold", "color": "#7A5530", "align": "center"}, "encoding": {"text": {"field": "t"}}},
   {"data": {"values": [{"x":5.64,"y":0.1238,"t":"2 / 2"}]},
    "mark": {"type": "text", "font": "DejaVu Sans", "fontSize": 17, "color": "#3355FF", "align": "center"}, "encoding": {"text": {"field": "t"}}}
  ]},
 {"width": 368, "height": 258,
  "encoding": {
   "x": {"field": "x", "type": "quantitative", "title": null, "scale": {"domain": [-2.039, 11.057], "nice": false, "zero": false},
     "axis": {"values": [0,1,2,3,4,5,6,7,8,9], "labelExpr": "indexof([0, 5, 9], datum.value) >= 0 ? datum.label : ''", "offset": -51, "tickSize": 5, "labelPadding": 1, "labelFontSize": 16}},
   "y": {"field": "y", "type": "quantitative", "title": null, "scale": {"domain": [-0.18107, 0.74036], "nice": false, "zero": false},
     "axis": {"values": [0,0.1,0.2,0.3,0.4], "format": "~g", "labelExpr": "replace(datum.label, '.', ',')", "offset": -57, "tickSize": 5, "labelPadding": 2, "labelFontSize": 16}}
  },
  "layer": [
   {"data": {"values": [{"x":-2.039,"y":-0.18107,"x2":-2.039,"y2":0.74036}]},
    "mark": {"type": "rule", "color": "#222", "strokeWidth": 2}, "encoding": {"x2": {"field": "x2"}, "y2": {"field": "y2"}}},
   {"data": {"values": [{"x":0,"y":0,"x2":0,"y2":0.455},{"x":0,"y":0,"x2":9.95,"y2":0}]},
    "mark": {"type": "rule", "color": "#222", "strokeWidth": 2}, "encoding": {"x2": {"field": "x2"}, "y2": {"field": "y2"}}},
   {"data": {"values": [{"x":0,"y":0.4654}]}, "mark": {"type": "point", "shape": "triangle-up", "filled": true, "color": "#111", "size": 70, "opacity": 1}},
   {"data": {"values": [{"x":10.1,"y":0}]}, "mark": {"type": "point", "shape": "triangle-right", "filled": true, "color": "#111", "size": 70, "opacity": 1}},
   {"data": {"values": [{"x":7.605,"y":0.6225,"x2":8.352,"y2":0.6225}]},
    "mark": {"type": "rule", "color": "#111", "strokeWidth": 1}, "encoding": {"x2": {"field": "x2"}, "y2": {"field": "y2"}}},
   {"data": {"name": "pois"}, "mark": {"type": "line", "strokeWidth": 1.5},
    "encoding": {"color": {"field": "s", "type": "nominal", "scale": {"domain": ["l1","l2","l3"], "range": ["#2EAA2E","#FF1A1A","#111"]}, "legend": null}}},
   {"data": {"name": "pois"}, "mark": {"type": "point", "shape": "diamond", "filled": true, "size": 26, "opacity": 1},
    "encoding": {"color": {"field": "s", "type": "nominal", "scale": {"domain": ["l1","l2","l3"], "range": ["#2EAA2E","#FF1A1A","#111"]}, "legend": null}}},
   {"data": {"values": [{"x":-1.434,"y":0.6261,"t":"Poisson-Verteilung"}]},
    "mark": {"type": "text", "font": "Liberation Serif", "fontSize": 20.5, "color": "#111", "align": "left"}, "encoding": {"text": {"field": "t"}}},
   {"data": {"values": [{"x":5.253,"y":0.6189,"t":"π"},{"x":5.432,"y":0.4875,"t":"λ ="}]},
    "mark": {"type": "text", "font": "Liberation Serif", "fontSize": 16, "color": "#111", "align": "left"}, "encoding": {"text": {"field": "t"}}},
   {"data": {"values": [{"x":5.573,"y":0.6046,"t":"λ"},{"x":8.886,"y":0.6404,"t":"−λ"}]},
    "mark": {"type": "text", "font": "Liberation Serif", "fontSize": 10, "color": "#111", "align": "left"}, "encoding": {"text": {"field": "t"}}},
   {"data": {"values": [{"x":5.822,"y":0.6189,"t":"(m) ="},{"x":8.6,"y":0.6189,"t":"e"},{"x":6.324,"y":0.4875,"t":"n·p"},{"x":8.067,"y":0.4875,"t":"p"}]},
    "mark": {"type": "text", "font": "Liberation Serif", "fontStyle": "italic", "fontSize": 16, "color": "#111", "align": "left"}, "encoding": {"text": {"field": "t"}}},
   {"data": {"values": [{"x":7.961,"y":0.6511,"t":"λᵐ"}]},
    "mark": {"type": "text", "font": "Liberation Serif", "fontSize": 14, "color": "#111", "align": "center"}, "encoding": {"text": {"field": "t"}}},
   {"data": {"values": [{"x":7.961,"y":0.5904,"t":"m!"}]},
    "mark": {"type": "text", "font": "Liberation Serif", "fontStyle": "italic", "fontSize": 14, "color": "#111", "align": "center"}, "encoding": {"text": {"field": "t"}}},
   {"data": {"values": [{"x":7.142,"y":0.4875,"t":"bei"},{"x":8.494,"y":0.4875,"t":"« 1"}]},
    "mark": {"type": "text", "font": "DejaVu Sans", "fontSize": 15, "color": "#222", "align": "left"}, "encoding": {"text": {"field": "t"}}},
   {"data": {"values": [{"x":0.167,"y":0.4761,"t":"π"}]},
    "mark": {"type": "text", "font": "Liberation Serif", "fontSize": 21, "color": "#111", "align": "left"}, "encoding": {"text": {"field": "t"}}},
   {"data": {"values": [{"x":0.594,"y":0.4511,"t":"λ"}]},
    "mark": {"type": "text", "font": "Liberation Serif", "fontSize": 12, "color": "#111", "align": "left"}, "encoding": {"text": {"field": "t"}}},
   {"data": {"values": [{"x":0.915,"y":0.4761,"t":"(m)"}]},
    "mark": {"type": "text", "font": "Liberation Serif", "fontStyle": "italic", "fontSize": 20, "color": "#111", "align": "left"}, "encoding": {"text": {"field": "t"}}},
   {"data": {"values": [{"x":9.42,"y":0.0511,"t":"m"}]},
    "mark": {"type": "text", "font": "Liberation Serif", "fontStyle": "italic", "fontSize": 21, "color": "#111", "align": "center"}, "encoding": {"text": {"field": "t"}}},
   {"data": {"values": [{"x":1.05,"y":0.3935,"t":"λ =1"}]},
    "mark": {"type": "text", "font": "DejaVu Sans", "fontSize": 16, "color": "#2BD52B", "align": "center"}, "encoding": {"text": {"field": "t"}}},
   {"data": {"values": [{"x":2.26,"y":0.2975,"t":"λ = 2"}]},
    "mark": {"type": "text", "font": "DejaVu Sans", "fontSize": 16, "color": "#FF2020", "align": "center"}, "encoding": {"text": {"field": "t"}}},
   {"data": {"values": [{"x":3.9,"y":0.226,"t":"λ =3"}]},
    "mark": {"type": "text", "font": "DejaVu Sans", "fontSize": 16, "color": "#222", "align": "center"}, "encoding": {"text": {"field": "t"}}}
  ]}
], "spacing": 0, "bounds": "flush", "resolve": {"scale": {"color": "independent"}}}
]
}
